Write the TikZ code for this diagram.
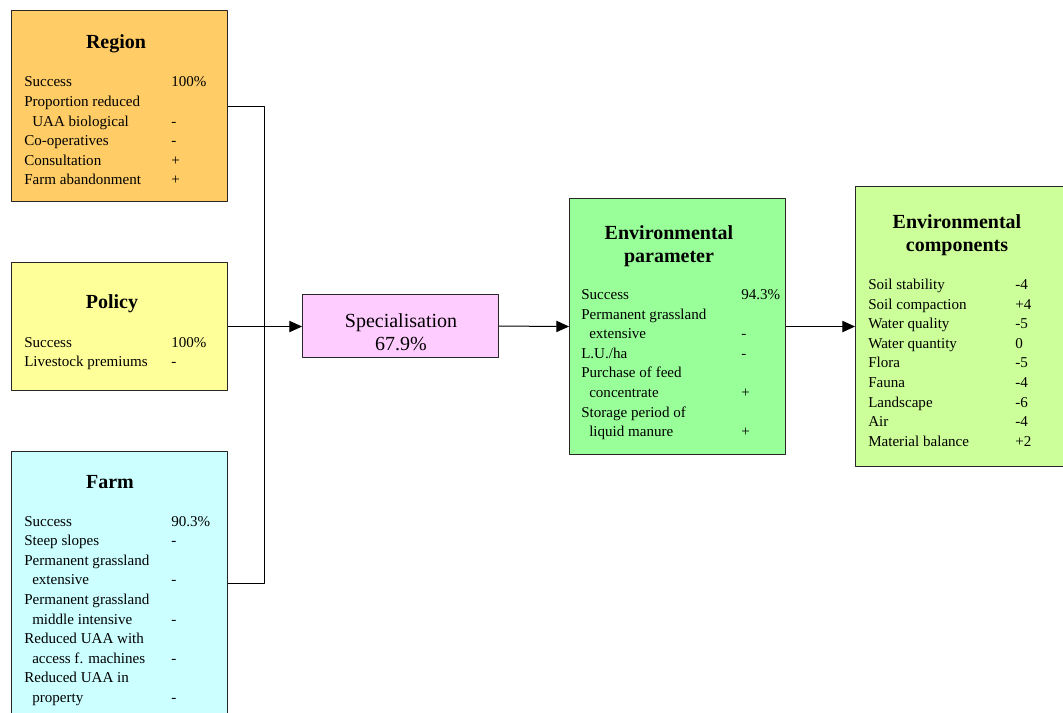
\documentclass[tikz,border=0pt]{standalone}
\usepackage{fontspec}
\setmainfont{Liberation Serif}
\usetikzlibrary{arrows.meta}
\definecolor{regionfill}{HTML}{FFCC66}
\definecolor{policyfill}{HTML}{FFFF99}
\definecolor{farmfill}{HTML}{CCFFFF}
\definecolor{specfill}{HTML}{FFCCFF}
\definecolor{parfill}{HTML}{99FF99}
\definecolor{compfill}{HTML}{CCFF99}
\tikzset{
	box/.style={draw=black!85,line width=0.8pt,anchor=north west,inner sep=0pt},
	title/.style={font=\fontsize{15}{17.25}\selectfont\bfseries,align=center},
	row/.style={anchor=base west,inner sep=0pt,font=\fontsize{11.3}{14}\selectfont},
	link/.style={line width=0.75pt}
}
\begin{document}
\begin{tikzpicture}[>={Triangle[length=9.5pt,width=8.5pt]},line join=round,x=0.75pt,y=-0.75pt]
		\useasboundingbox (0,0) rectangle (1063,713);
		\clip (0,0) rectangle (1063,713);
		
		% boxes
		\node[box,fill=regionfill,minimum width=162pt,minimum height=143.25pt] (region) at (11,10) {};
		\node[box,fill=policyfill,minimum width=162pt,minimum height=96pt] (policy) at (11,262) {};
		\node[box,fill=farmfill,minimum width=162pt,minimum height=198pt] (farm) at (11,451) {};
		\node[box,fill=specfill,minimum width=147pt,minimum height=47.25pt] (spec) at (302,294) {};
		\node[box,fill=parfill,minimum width=162pt,minimum height=192pt] (envpar) at (569,198) {};
		\node[box,fill=compfill,minimum width=165pt,minimum height=210pt] (envcomp) at (855,186) {};
		
		% titles
		\node[title] (region-t) at (116,44) {Region};
		\node[title] (policy-t) at (112,304) {Policy};
		\node[title] (farm-t) at (110,482) {Farm};
		\node[title] (envpar-t) at (669,246) {Environmental\\parameter};
		\node[title] (envcomp-t) at (957,235) {Environmental\\components};
		\node[align=center,font=\fontsize{15}{17.25}\selectfont] (spec-t) at (401,332) {Specialisation\\67.9\%};
		
		% rows
		\foreach \txt/\val [count=\i from 0] in {Success/100\%, Proportion reduced/, \hspace*{6pt}UAA biological/-, Co-operatives/-, Consultation/+, Farm abandonment/+}{
			\node[row] (region-l\i) at (24,{87+19.6*\i}) {\txt};
			\node[row] (region-v\i) at (171,{87+19.6*\i}) {\val};
		}
		\foreach \txt/\val [count=\i from 0] in {Success/100\%, Livestock premiums/-}{
			\node[row] (policy-l\i) at (24,{347+19.6*\i}) {\txt};
			\node[row] (policy-v\i) at (171,{347+19.6*\i}) {\val};
		}
		\foreach \txt/\val [count=\i from 0] in {Success/90.3\%, Steep slopes/-, Permanent grassland/, \hspace*{6pt}extensive/-, Permanent grassland/, \hspace*{6pt}middle intensive/-, Reduced UAA with/, \hspace*{6pt}access f. machines/-, Reduced UAA in/, \hspace*{6pt}property/-}{
			\node[row] (farm-l\i) at (24,{526+19.6*\i}) {\txt};
			\node[row] (farm-v\i) at (171,{526+19.6*\i}) {\val};
		}
		\foreach \txt/\val [count=\i from 0] in {Success/94.3\%, Permanent grassland/, \hspace*{6pt}extensive/-, {L.U./ha}/-, Purchase of feed/, \hspace*{6pt}concentrate/+, Storage period of/, \hspace*{6pt}liquid manure/+}{
			\node[row] (envpar-l\i) at (581,{299.5+19.6*\i}) {\txt};
			\node[row] (envpar-v\i) at (741,{299.5+19.6*\i}) {\val};
		}
		\foreach \txt/\val [count=\i from 0] in {Soil stability/-4, Soil compaction/+4, Water quality/-5, Water quantity/0, Flora/-5, Fauna/-4, Landscape/-6, Air/-4, Material balance/+2}{
			\node[row] (envcomp-l\i) at (868,{289.5+19.6*\i}) {\txt};
			\node[row] (envcomp-v\i) at (1015,{289.5+19.6*\i}) {\val};
		}
		
		% connectors
		\coordinate (junc) at (264,326);
		\draw[link] (region.east) -| (junc);
		\draw[link] (farm.east) -| (junc);
		\draw[link,->] (policy.east) -- (spec.west |- policy.east);
		\draw[link,->] (spec.east) -- (envpar.west);
		\draw[link,->] (envpar.east) -- (envcomp.west);
\end{tikzpicture}
\end{document}
